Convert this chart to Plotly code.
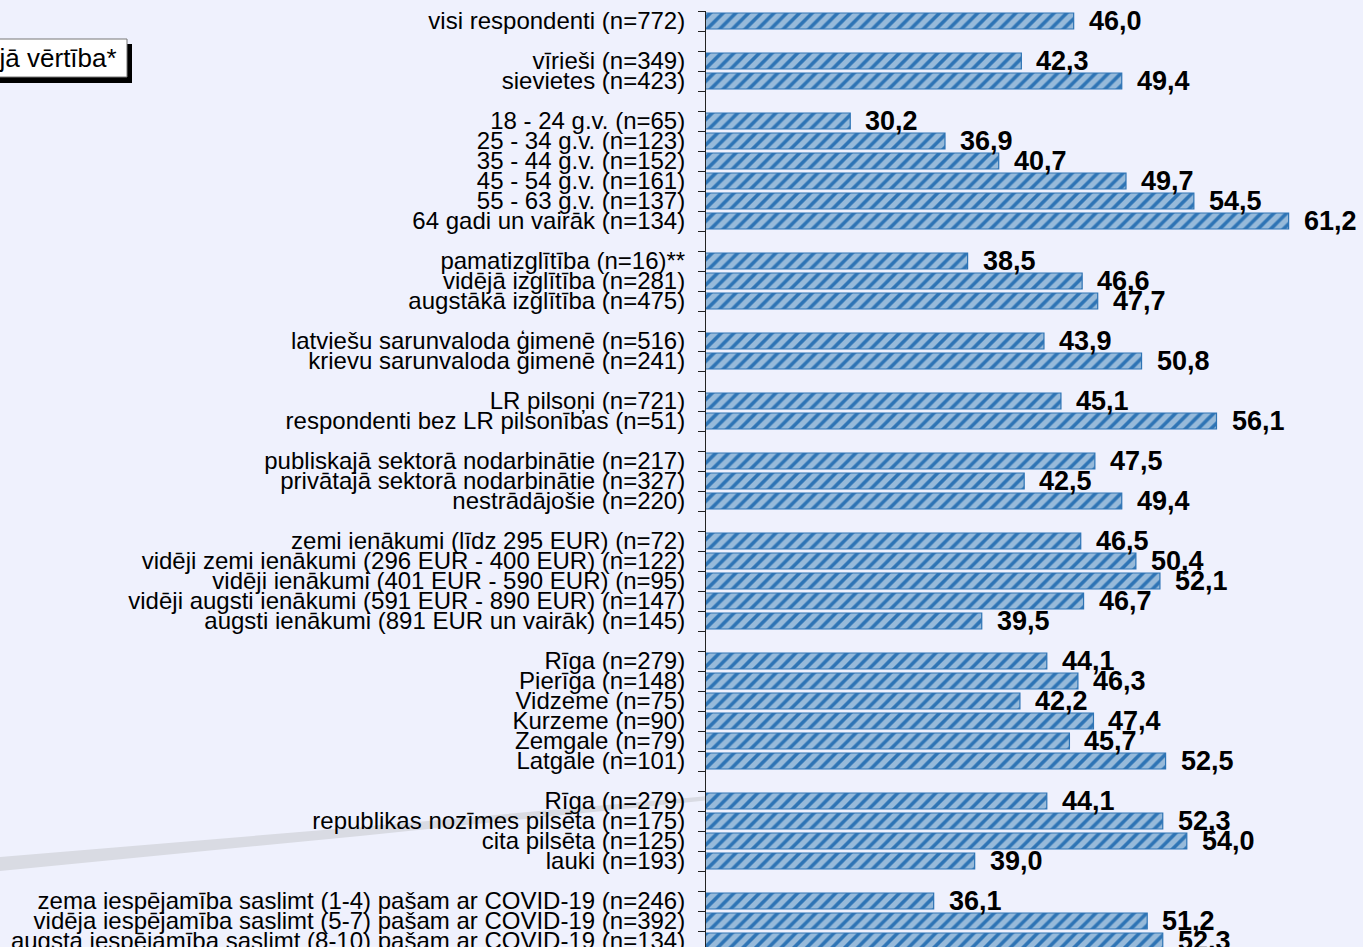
import plotly.graph_objects as go

# rows top to bottom; "" / None are the spacer rows between groups
categories = [
    "visi respondenti (n=772)", "",
    "vīrieši (n=349)", "sievietes (n=423)", "",
    "18 - 24 g.v. (n=65)", "25 - 34 g.v. (n=123)", "35 - 44 g.v. (n=152)",
    "45 - 54 g.v. (n=161)", "55 - 63 g.v. (n=137)", "64 gadi un vairāk (n=134)", "",
    "pamatizglītība (n=16)**", "vidējā izglītība (n=281)", "augstākā izglītība (n=475)", "",
    "latviešu sarunvaloda ģimenē (n=516)", "krievu sarunvaloda ģimenē (n=241)", "",
    "LR pilsoņi (n=721)", "respondenti bez LR pilsonības (n=51)", "",
    "publiskajā sektorā nodarbinātie (n=217)", "privātajā sektorā nodarbinātie (n=327)",
    "nestrādājošie (n=220)", "",
    "zemi ienākumi (līdz 295 EUR) (n=72)", "vidēji zemi ienākumi (296 EUR - 400 EUR) (n=122)",
    "vidēji ienākumi (401 EUR - 590 EUR) (n=95)", "vidēji augsti ienākumi (591 EUR - 890 EUR) (n=147)",
    "augsti ienākumi (891 EUR un vairāk) (n=145)", "",
    "Rīga (n=279)", "Pierīga (n=148)", "Vidzeme (n=75)", "Kurzeme (n=90)",
    "Zemgale (n=79)", "Latgale (n=101)", "",
    "Rīga (n=279)", "republikas nozīmes pilsēta (n=175)", "cita pilsēta (n=125)", "lauki (n=193)", "",
    "zema iespējamība saslimt (1-4) pašam ar COVID-19 (n=246)",
    "vidēja iespējamība saslimt (5-7) pašam ar COVID-19 (n=392)",
    "augsta iespējamība saslimt (8-10) pašam ar COVID-19 (n=134)",
]
values = [
    46.0, None,
    42.3, 49.4, None,
    30.2, 36.9, 40.7, 49.7, 54.5, 61.2, None,
    38.5, 46.6, 47.7, None,
    43.9, 50.8, None,
    45.1, 56.1, None,
    47.5, 42.5, 49.4, None,
    46.5, 50.4, 52.1, 46.7, 39.5, None,
    44.1, 46.3, 42.2, 47.4, 45.7, 52.5, None,
    44.1, 52.3, 54.0, 39.0, None,
    36.1, 51.2, 52.3,
]

W, H = 1363, 947
L, T = 706, 11
BLUE = "#2E74B5"
BG = "#EFF1FD"
FONT = "Liberation Sans, Arial"


def px_x(p):
    return (p - L) / (W - L)


def px_y(p):
    return 1 - (p - T) / (H - T)


rows = list(range(len(categories)))
bar_rows = [r for r in rows if values[r] is not None]
bar_vals = [values[r] for r in bar_rows]

fig = go.Figure()
fig.add_trace(go.Bar(
    x=bar_vals, y=bar_rows, orientation="h", width=0.8,
    marker=dict(
        color=BLUE,
        line=dict(color=BLUE, width=1.2),
        pattern=dict(shape="/", fillmode="overlay", fgcolor="white", size=9, solidity=0.6),
    ),
    hoverinfo="skip",
))

for r, v in zip(bar_rows, bar_vals):
    fig.add_annotation(
        x=v, y=r, text=f"{v:.1f}".replace(".", ","), showarrow=False,
        xanchor="left", yanchor="middle", xshift=13,
        font=dict(family=FONT, size=27, color="black", weight="bold"),
    )

# legend-like box at the top left, partly cut off by the page edge
fig.add_shape(type="rect", xref="paper", yref="paper",
              x0=px_x(-20), x1=px_x(132), y0=px_y(83), y1=px_y(44),
              fillcolor="black", line=dict(width=0), layer="above")
fig.add_shape(type="rect", xref="paper", yref="paper",
              x0=px_x(-20), x1=px_x(127), y0=px_y(77), y1=px_y(39),
              fillcolor="white", line=dict(color="#777777", width=1), layer="above")
fig.add_annotation(xref="paper", yref="paper", x=px_x(119), y=px_y(58),
                   xanchor="right", yanchor="middle", showarrow=False,
                   text="Vidējā vērtība*",
                   font=dict(family=FONT, size=26, color="black"))

# grey swoosh in the background, bottom left
pts_top = [(0, 857), (360, 827), (720, 795)]
pts_bot = [(720, 799), (360, 836), (0, 871)]
path = "M " + " L ".join(f"{px_x(a):.4f},{px_y(b):.4f}" for a, b in pts_top + pts_bot) + " Z"
fig.add_shape(type="path", xref="paper", yref="paper", path=path,
              fillcolor="#D9DBE3", line=dict(width=0), layer="below")

fig.update_layout(
    width=W, height=H,
    margin=dict(l=L, r=0, t=T, b=0, autoexpand=False),
    paper_bgcolor=BG, plot_bgcolor="rgba(0,0,0,0)",
    showlegend=False,
    font=dict(family=FONT, color="black"),
)
fig.update_xaxes(range=[20, 66.46], visible=False, showgrid=False, zeroline=False,
                 automargin=False)
fig.update_yaxes(
    range=[46.3, -0.5], automargin=False,
    tickvals=rows, ticktext=categories, ticks="",
    ticklabelstandoff=15, ticklabeloverflow="allow",
    tickfont=dict(size=24, color="black", family=FONT),
    showline=True, linecolor="#222222", linewidth=1,
    showgrid=False, zeroline=False,
    minor=dict(tickvals=[r - 0.5 for r in rows] + [rows[-1] + 0.5],
               ticks="outside", ticklen=7, tickcolor="#222222", tickwidth=1),
)

fig.write_html("out.html", config={"displayModeBar": False},
               post_script="document.body.style.margin='0';")
